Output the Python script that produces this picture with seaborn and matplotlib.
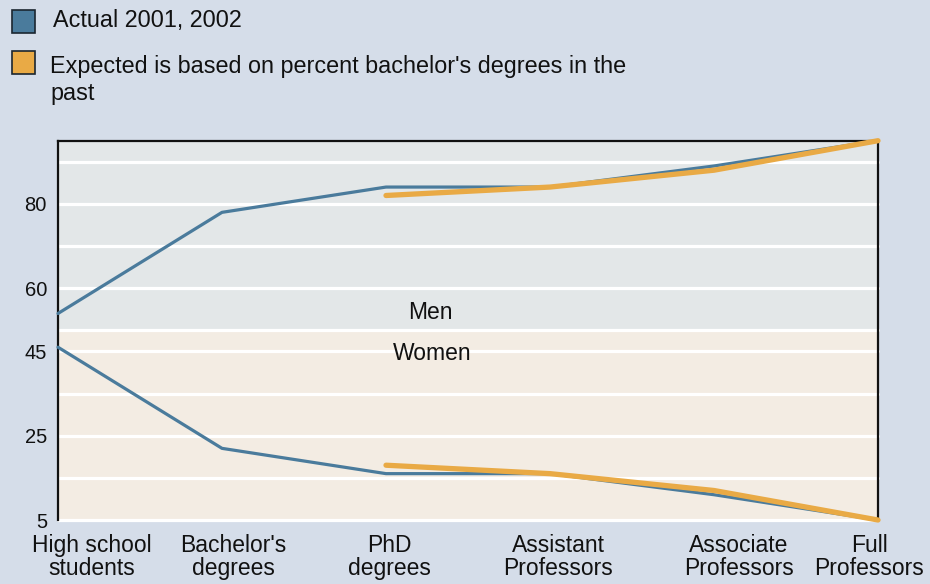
import numpy as np
import pandas as pd
import matplotlib
matplotlib.use("Agg")
import matplotlib.pyplot as plt
import matplotlib.transforms as mtransforms
from matplotlib.patches import Rectangle
import seaborn as sns

# ---- data ----
categories = ["High school\nstudents", "Bachelor's\ndegrees", "PhD\ndegrees",
              "Assistant\nProfessors", "Associate\nProfessors", "Full\nProfessors"]
men_actual = [54, 78, 84, 84, 89, 95]
women_actual = [46, 22, 16, 16, 11, 5]
expected_categories = categories[2:]
men_expected = [82, 84, 88, 95]
women_expected = [18, 16, 12, 5]
ytick_values = [80, 60, 45, 25, 5]
grid_values = [90, 80, 70, 60, 50, 45, 35, 25, 15, 5]
legend_labels = ["Actual 2001, 2002",
                 "Expected is based on percent bachelor's degrees in the\npast"]
band_labels = ["Men", "Women"]

# ---- style ----
sns.set_style("white")
plt.rcParams["font.family"] = ["Liberation Sans", "DejaVu Sans"]

BG = "#d5dde9"
MEN_BG = "#e3e7e8"
WOMEN_BG = "#f3ece3"
BLUE = "#4a7b9c"
ORANGE = "#e9aa45"
INK = "#111111"

pos = {c: i for i, c in enumerate(categories)}
df_actual = pd.DataFrame({
    "x": [pos[c] for c in categories] * 2,
    "value": men_actual + women_actual,
    "group": ["men"] * len(categories) + ["women"] * len(categories),
})
df_expected = pd.DataFrame({
    "x": [pos[c] for c in expected_categories] * 2,
    "value": men_expected + women_expected,
    "group": ["men"] * len(expected_categories) + ["women"] * len(expected_categories),
})

fig = plt.figure(figsize=(9.3, 5.84), dpi=100, facecolor=BG)
ax = fig.add_axes([58 / 930, 1 - 520 / 584, 820 / 930, 379.3 / 584])
ax.set_facecolor(BG)

ax.set_xlim(0, len(categories) - 1)
ax.set_ylim(5, 95)

ax.axhspan(50, 95, color=MEN_BG, zorder=0, lw=0)
ax.axhspan(5, 50, color=WOMEN_BG, zorder=0, lw=0)
for g in grid_values:
    ax.axhline(g, color="white", lw=2.3, zorder=1, clip_on=False)

for grp in ["men", "women"]:
    sub = df_actual[df_actual["group"] == grp]
    sns.lineplot(data=sub, x="x", y="value", ax=ax, color=BLUE, lw=2.3,
                 legend=False, zorder=3, clip_on=False)
for grp in ["men", "women"]:
    sub = df_expected[df_expected["group"] == grp]
    sns.lineplot(data=sub, x="x", y="value", ax=ax, color=ORANGE, lw=3.8,
                 legend=False, zorder=4, clip_on=False)

ax.set_xlabel("")
ax.set_ylabel("")

# spines
for s in ["top", "left", "right"]:
    ax.spines[s].set_visible(True)
    ax.spines[s].set_color(INK)
    ax.spines[s].set_linewidth(1.6)
    ax.spines[s].set_zorder(2)
ax.spines["bottom"].set_visible(False)

# ticks
ax.set_yticks(ytick_values)
ax.set_yticklabels([str(v) for v in ytick_values])
ax.tick_params(axis="y", length=0, pad=8, labelsize=14.5, colors=INK)
ax.set_xticks(range(len(categories)))
ax.set_xticklabels(categories, linespacing=1.0)
ax.tick_params(axis="x", direction="in", length=6.5, width=1.6, color=INK,
               pad=10, labelsize=16.5, labelcolor=INK)
label_dx = [34, 11, 3, 8, 25, -9]
for lab, dx in zip(ax.get_xticklabels(), label_dx):
    lab.set_transform(lab.get_transform() +
                      mtransforms.ScaledTranslation(dx / 100, 0, fig.dpi_scale_trans))

# band labels
ax.text(2.27, 54.3, band_labels[0], ha="center", va="center", fontsize=16.5, color=INK, zorder=5)
ax.text(2.28, 44.5, band_labels[1], ha="center", va="center", fontsize=16.5, color=INK, zorder=5)

# legend (custom, figure pixel coords)
def fx(px):
    return px / 930

def fy(py):
    return 1 - py / 584

fig.patches.append(Rectangle((fx(12), fy(33)), 23 / 930, 23 / 584, transform=fig.transFigure,
                             facecolor=BLUE, edgecolor="#1b2630", lw=1.2))
fig.patches.append(Rectangle((fx(12), fy(74)), 23 / 930, 23 / 584, transform=fig.transFigure,
                             facecolor=ORANGE, edgecolor="#1b2630", lw=1.2))
fig.text(fx(53), fy(21), legend_labels[0], ha="left", va="center", fontsize=16.8, color=INK)
fig.text(fx(50), fy(55), legend_labels[1], ha="left", va="top", fontsize=16.8, color=INK,
         linespacing=1.2)

fig.savefig("out.png", dpi=100, facecolor=BG)
